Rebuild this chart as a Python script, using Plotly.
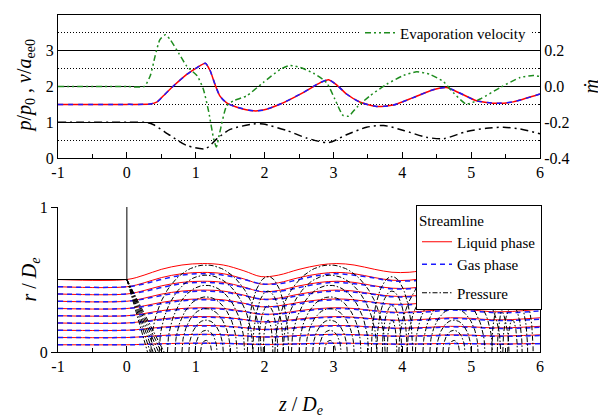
import numpy as np
import plotly.graph_objects as go

# ---------------- data ----------------
# top panel: velocity (liquid red / gas blue overlapping), left axis
z_vel = [-1, 0, 0.34, 0.44, 0.53, 0.68, 0.87, 1.02, 1.14, 1.21, 1.28, 1.35, 1.45, 1.6, 1.84,
         1.98, 2.23, 2.56, 2.81, 2.93, 3.05, 3.19, 3.39, 3.63, 3.87, 4.16, 4.45, 4.64, 4.84,
         5.08, 5.37, 5.61, 6.0]
vel = [1.5, 1.5, 1.51, 1.57, 1.74, 2.02, 2.34, 2.53, 2.65, 2.44, 2.06, 1.74, 1.54, 1.42, 1.32,
       1.34, 1.51, 1.83, 2.11, 2.19, 2.04, 1.79, 1.56, 1.44, 1.48, 1.69, 1.91, 1.97, 1.81,
       1.6, 1.53, 1.57, 1.79]

# top panel: axis pressure p/p0, left axis
z_pre = [-1, 0, 0.3, 0.39, 0.63, 0.87, 1.14, 1.31, 1.5, 1.84, 1.98, 2.32, 2.61, 2.93, 3.19,
         3.48, 3.73, 4.02, 4.35, 4.6, 4.93, 5.22, 5.47, 5.71, 6.0]
pre = [1.0, 1.0, 0.99, 0.93, 0.63, 0.35, 0.26, 0.54, 0.8, 0.95, 0.95, 0.77, 0.56, 0.43, 0.65,
       0.86, 0.91, 0.77, 0.58, 0.54, 0.74, 0.83, 0.86, 0.81, 0.68]

# top panel: evaporation velocity (right axis, m-dot)
z_evap = [-1, 0, 0.25, 0.34, 0.41, 0.48, 0.56, 0.63, 0.75, 0.87, 1.02, 1.11, 1.19, 1.26, 1.3,
          1.35, 1.45, 1.55, 1.74, 1.98, 2.23, 2.37, 2.52, 2.71, 2.9, 3.02, 3.14, 3.22, 3.34,
          3.53, 3.77, 4.02, 4.21, 4.4, 4.6, 4.74, 4.93, 5.13, 5.42, 5.71, 5.9, 6.0]
evap = [0, 0, 0, 0.06, 0.17, 0.262, 0.29, 0.262, 0.188, 0.114, 0.06, -0.014, -0.144, -0.292,
        -0.338, -0.256, -0.108, -0.08, -0.052, 0.022, 0.096, 0.118, 0.106, 0.074, 0.022,
        -0.07, -0.162, -0.166, -0.116, -0.052, 0.012, 0.062, 0.082, 0.068, 0.026, -0.034,
        -0.098, -0.07, -0.006, 0.05, 0.062, 0.056]

# bottom panel: streamlines
z_stream = [-1, 0, 0.25, 0.5, 0.8, 1.1, 1.4, 1.7, 1.95, 2.2, 2.5, 2.8, 3.05, 3.3, 3.6, 3.85,
            4.1, 4.4, 4.7, 5.0, 5.3, 5.6, 6.0]
liq_outer = [0.5, 0.5, 0.53, 0.57, 0.60, 0.61, 0.60, 0.56, 0.52, 0.53, 0.57, 0.60, 0.61, 0.60,
             0.57, 0.55, 0.55, 0.57, 0.59, 0.58, 0.555, 0.56, 0.59]
gas_outer = [0.45, 0.45, 0.47, 0.50, 0.53, 0.54, 0.53, 0.50, 0.47, 0.47, 0.50, 0.53, 0.54,
             0.53, 0.51, 0.49, 0.49, 0.50, 0.52, 0.51, 0.49, 0.49, 0.51]
liq_r0 = [0.5, 0.45, 0.4, 0.35, 0.3, 0.25, 0.2, 0.15, 0.1, 0.05]
gas_r0 = [0.45, 0.4, 0.35, 0.3, 0.25, 0.2, 0.15, 0.1, 0.05]

# bottom panel: pressure contour families (centre z, half widths, heights)
dome_centres = [1.15, 2.95, 4.75]
dome_widths = [0.8, 0.68, 0.56, 0.45, 0.35, 0.25, 0.16, 0.08]
dome_heights = [0.6, 0.53, 0.46, 0.38, 0.3, 0.22, 0.15, 0.08]
arch_centres = [2.05, 3.85, 5.6]
arch_widths = [0.3, 0.22, 0.14, 0.07]
arch_heights = [0.52, 0.42, 0.32, 0.22]
fan_start = (0.0, 0.5)
fan_end_z = [0.3, 0.34, 0.38, 0.42, 0.46, 0.5, 0.54]

# nozzle wall
wall_z = [-1, 0, 0]
wall_r = [0.5, 0.5, 1.0]

x_ticks = [-1, 0, 1, 2, 3, 4, 5, 6]
x_ticktext = ["-1", "0", "1", "2", "3", "4", "5", "6"]
m_ticks = [-0.4, -0.2, 0.0, 0.2, 0.4]
m_ticktext = ["-0.4", "-0.2", "0.0", "0.2", "0.4"]

# ---------------- figure ----------------
FONT = "Liberation Serif, Times New Roman, serif"
RED = "#ff0000"
BLUE = "#1a1aff"
GREEN = "#1e8c1e"

# page has an 8px body margin: figure is 598x411 placed at (8, 8)
W, H, OFF = 598, 411, 8


def px(x):
    return (x - OFF) / W


def py(y):
    return (H - (y - OFF)) / H


fig = go.Figure()

# top panel
fig.add_trace(go.Scatter(x=z_pre, y=pre, mode="lines", line=dict(color="black", width=1.5,
              dash="8px,4px,2px,4px", shape="spline", smoothing=0.7), showlegend=False,
              xaxis="x", yaxis="y"))
fig.add_trace(go.Scatter(x=z_evap, y=evap, mode="lines", name="Evaporation velocity",
              line=dict(color=GREEN, width=1.5, dash="6px,3px,2px,3px,2px,3px", shape="spline",
                        smoothing=0.6),
              xaxis="x", yaxis="y2", legend="legend2"))
fig.add_trace(go.Scatter(x=z_vel, y=vel, mode="lines", line=dict(color=RED, width=1.5,
              shape="spline", smoothing=0.6), showlegend=False, xaxis="x", yaxis="y"))
fig.add_trace(go.Scatter(x=z_vel, y=vel, mode="lines", line=dict(color=BLUE, width=1.5,
              dash="5px,5px", shape="spline", smoothing=0.6), showlegend=False,
              xaxis="x", yaxis="y"))

# bottom panel: pressure contours
pz, pr = [], []
t = np.linspace(0, np.pi, 45)
for zc in dome_centres:
    for w, h in zip(dome_widths, dome_heights):
        pz += list(zc - w * np.cos(t)) + [None]
        pr += list(h * np.sin(t)) + [None]
for zc in arch_centres:
    for w, h in zip(arch_widths, arch_heights):
        pz += list(zc - w * np.cos(t)) + [None]
        pr += list(h * np.sin(t)) + [None]
for ze in fan_end_z:
    pz += [fan_start[0], ze, None]
    pr += [fan_start[1], 0.0, None]

# streamlines
for i, r0 in enumerate(liq_r0):
    fig.add_trace(go.Scatter(x=z_stream, y=[r0 / liq_r0[0] * v for v in liq_outer],
                  mode="lines", name="Liquid phase", legendgroup="stream",
                  showlegend=(i == 0), line=dict(color=RED, width=1, shape="spline"),
                  xaxis="x2", yaxis="y3"))
for i, r0 in enumerate(gas_r0):
    fig.add_trace(go.Scatter(x=z_stream, y=[r0 / gas_r0[0] * v for v in gas_outer],
                  mode="lines", name="Gas phase", legendgroup="stream",
                  showlegend=(i == 0), line=dict(color=BLUE, width=1.5, dash="5px,4px",
                                                 shape="spline"),
                  xaxis="x2", yaxis="y3"))
fig.add_trace(go.Scatter(x=pz, y=pr, mode="lines", name="Pressure", legendgroup="p",
              line=dict(color="black", width=1, dash="5px,2px,1.5px,2px"),
              xaxis="x2", yaxis="y3"))
fig.add_trace(go.Scatter(x=wall_z, y=wall_r, mode="lines", showlegend=False,
              line=dict(color="black", width=1), xaxis="x2", yaxis="y3"))

XD = [px(58), px(540)]
TOP = [py(158), py(15)]
BOT = [py(352), py(207)]
tickfont = dict(family=FONT, size=16, color="black")

fig.update_layout(
    width=W, height=H, margin=dict(l=0, r=0, t=0, b=0, autoexpand=False),
    paper_bgcolor="white", plot_bgcolor="white",
    font=dict(family=FONT, color="black"),
    xaxis=dict(domain=XD, range=[-1, 6], anchor="y", tickvals=x_ticks, ticktext=x_ticktext,
               ticks="inside", ticklen=6, tickcolor="black", showline=True, linecolor="black",
               linewidth=1, mirror=True, showgrid=False, zeroline=False, tickfont=tickfont,
               automargin=False,
               minor=dict(dtick=0.5, ticks="inside", ticklen=4, tickcolor="black")),
    yaxis=dict(domain=TOP, range=[0, 4], dtick=1, anchor="x", ticks="", showline=True,
               linecolor="black", linewidth=1, showgrid=True, gridcolor="black", gridwidth=1,
               zeroline=False, tickfont=tickfont, automargin=False,
               minor=dict(dtick=0.5, showgrid=True, griddash="1px,2px", gridcolor="black",
                          gridwidth=1)),
    yaxis2=dict(range=[-0.4, 0.4], overlaying="y", side="right", anchor="x",
                tickvals=m_ticks, ticktext=m_ticktext, ticks="inside", ticklen=4,
                tickcolor="black", showline=True, linecolor="black", linewidth=1,
                showgrid=False, zeroline=False, tickfont=tickfont, automargin=False,
                minor=dict(dtick=0.1, ticks="inside", ticklen=2, tickcolor="black")),
    xaxis2=dict(domain=XD, range=[-1, 6], anchor="y3", tickvals=x_ticks, ticktext=x_ticktext,
                ticks="inside", ticklen=6, tickcolor="black", showline=True,
                linecolor="black", linewidth=1, showgrid=False, zeroline=False,
                tickfont=tickfont, automargin=False,
                minor=dict(dtick=0.5, ticks="inside", ticklen=4, tickcolor="black")),
    yaxis3=dict(domain=BOT, range=[0, 1], anchor="x2", tickvals=[0, 1], ticks="outside",
                ticklen=6, tickcolor="black", showline=True, linecolor="black", linewidth=1,
                mirror=True, showgrid=False, zeroline=False, tickfont=tickfont,
                automargin=False),
    legend=dict(x=px(416), y=py(205), xanchor="left", yanchor="top",
                bgcolor="white", bordercolor="black", borderwidth=1,
                font=dict(family=FONT, size=15, color="black"),
                title=dict(text="Streamline", font=dict(family=FONT, size=15)),
                traceorder="grouped", tracegroupgap=6, itemwidth=30),
    legend2=dict(x=px(360), y=py(33), xanchor="left", yanchor="middle",
                 bgcolor="white", borderwidth=0, itemwidth=30,
                 font=dict(family=FONT, size=15, color="black")),
    annotations=[
        dict(text="<i>p</i>/<i>p</i><sub>0</sub> , <i>v</i>/<i>a</i><sub>ee0</sub>",
             xref="paper", yref="paper", x=px(25), y=sum(TOP) / 2, textangle=-90,
             xanchor="center", yanchor="middle",
             showarrow=False, font=dict(family=FONT, size=20)),
        dict(text="<i>ṁ</i>", xref="paper", yref="paper", x=px(590), y=sum(TOP) / 2,
             textangle=-90, xanchor="center", yanchor="middle",
             showarrow=False, font=dict(family=FONT, size=20)),
        dict(text="<i>r</i> / <i>D</i><sub><i>e</i></sub>", xref="paper", yref="paper",
             x=px(30), y=sum(BOT) / 2, textangle=-90, xanchor="center", yanchor="middle",
             showarrow=False, font=dict(family=FONT, size=20)),
        dict(text="<i>z</i> / <i>D</i><sub><i>e</i></sub>", xref="paper", yref="paper",
             x=px(300), y=py(405), xanchor="center", yanchor="middle", showarrow=False,
             font=dict(family=FONT, size=20)),
    ],
)

fig.write_html("out.html")
